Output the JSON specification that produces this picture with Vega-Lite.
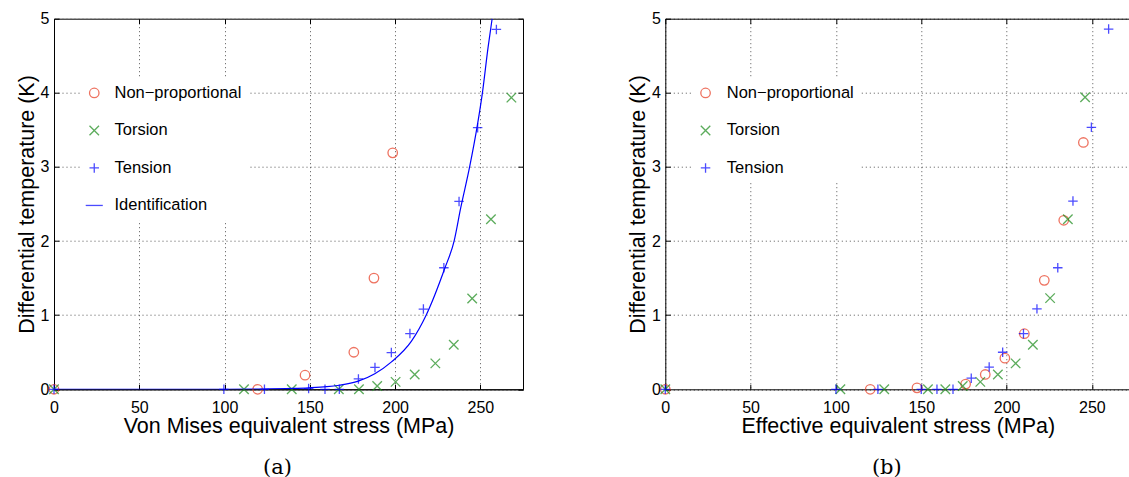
{
  "$schema": "https://vega.github.io/schema/vega-lite/v6.json",
  "padding": {"left": 15, "top": 9.7, "right": 0, "bottom": 0},
  "background": "white",
  "datasets": {
    "left": [
      {"series": "Non-proportional", "x": 0, "y": 0},
      {"series": "Non-proportional", "x": 119.4, "y": 0},
      {"series": "Non-proportional", "x": 147.2, "y": 0.19},
      {"series": "Non-proportional", "x": 175.8, "y": 0.5},
      {"series": "Non-proportional", "x": 187.6, "y": 1.5},
      {"series": "Non-proportional", "x": 198.6, "y": 3.19},
      {"series": "Torsion", "x": 0, "y": 0},
      {"series": "Torsion", "x": 111.4, "y": 0},
      {"series": "Torsion", "x": 139.4, "y": 0},
      {"series": "Torsion", "x": 167, "y": 0},
      {"series": "Torsion", "x": 178.8, "y": 0},
      {"series": "Torsion", "x": 189.5, "y": 0.045},
      {"series": "Torsion", "x": 200.3, "y": 0.1},
      {"series": "Torsion", "x": 211.5, "y": 0.2},
      {"series": "Torsion", "x": 223.6, "y": 0.35},
      {"series": "Torsion", "x": 234.4, "y": 0.6},
      {"series": "Torsion", "x": 245.2, "y": 1.225},
      {"series": "Torsion", "x": 256.2, "y": 2.295},
      {"series": "Torsion", "x": 268.2, "y": 3.935},
      {"series": "Tension", "x": 0, "y": 0},
      {"series": "Tension", "x": 99.6, "y": 0},
      {"series": "Tension", "x": 123.4, "y": 0},
      {"series": "Tension", "x": 149.3, "y": 0.01},
      {"series": "Tension", "x": 158.9, "y": 0},
      {"series": "Tension", "x": 167.3, "y": 0},
      {"series": "Tension", "x": 178.5, "y": 0.14},
      {"series": "Tension", "x": 188.2, "y": 0.295},
      {"series": "Tension", "x": 197.8, "y": 0.495},
      {"series": "Tension", "x": 208.7, "y": 0.752},
      {"series": "Tension", "x": 216.6, "y": 1.083},
      {"series": "Tension", "x": 228.6, "y": 1.64},
      {"series": "Tension", "x": 237.5, "y": 2.535},
      {"series": "Tension", "x": 248.4, "y": 3.53},
      {"series": "Tension", "x": 259.4, "y": 4.855}
    ],
    "curve": [
      {"x": 0, "y": 0},
      {"x": 100, "y": 0},
      {"x": 120, "y": 0.003},
      {"x": 140, "y": 0.012},
      {"x": 149.3, "y": 0.02},
      {"x": 160, "y": 0.035},
      {"x": 167.3, "y": 0.055},
      {"x": 178.4, "y": 0.11},
      {"x": 188.1, "y": 0.21},
      {"x": 197.9, "y": 0.37},
      {"x": 209.6, "y": 0.65},
      {"x": 218.4, "y": 1.01},
      {"x": 229.1, "y": 1.63},
      {"x": 234.6, "y": 2.0},
      {"x": 238.5, "y": 2.45},
      {"x": 243.7, "y": 3.0},
      {"x": 248.3, "y": 3.57},
      {"x": 251.2, "y": 4.0},
      {"x": 254.5, "y": 4.61},
      {"x": 256.9, "y": 5.0}
    ],
    "right": [
      {"series": "Non-proportional", "x": 0, "y": 0},
      {"series": "Non-proportional", "x": 120.1, "y": 0},
      {"series": "Non-proportional", "x": 147.5, "y": 0.02},
      {"series": "Non-proportional", "x": 176.0, "y": 0.07},
      {"series": "Non-proportional", "x": 187.5, "y": 0.2},
      {"series": "Non-proportional", "x": 199.0, "y": 0.42},
      {"series": "Non-proportional", "x": 210.4, "y": 0.75},
      {"series": "Non-proportional", "x": 222.1, "y": 1.47},
      {"series": "Non-proportional", "x": 233.5, "y": 2.28},
      {"series": "Non-proportional", "x": 245.0, "y": 3.33},
      {"series": "Torsion", "x": 0, "y": 0},
      {"series": "Torsion", "x": 102.6, "y": 0},
      {"series": "Torsion", "x": 128.3, "y": 0},
      {"series": "Torsion", "x": 153.9, "y": 0},
      {"series": "Torsion", "x": 164.1, "y": 0},
      {"series": "Torsion", "x": 174.3, "y": 0.045},
      {"series": "Torsion", "x": 184.6, "y": 0.1},
      {"series": "Torsion", "x": 194.9, "y": 0.2},
      {"series": "Torsion", "x": 205.3, "y": 0.35},
      {"series": "Torsion", "x": 215.4, "y": 0.6},
      {"series": "Torsion", "x": 225.5, "y": 1.23},
      {"series": "Torsion", "x": 235.9, "y": 2.295},
      {"series": "Torsion", "x": 246.0, "y": 3.94},
      {"series": "Tension", "x": 0, "y": 0},
      {"series": "Tension", "x": 100, "y": 0},
      {"series": "Tension", "x": 124.6, "y": 0},
      {"series": "Tension", "x": 150, "y": 0},
      {"series": "Tension", "x": 159.2, "y": 0},
      {"series": "Tension", "x": 168.6, "y": 0},
      {"series": "Tension", "x": 179.3, "y": 0.15},
      {"series": "Tension", "x": 189.8, "y": 0.3},
      {"series": "Tension", "x": 197.7, "y": 0.5},
      {"series": "Tension", "x": 209.9, "y": 0.75},
      {"series": "Tension", "x": 217.8, "y": 1.085},
      {"series": "Tension", "x": 230.0, "y": 1.64},
      {"series": "Tension", "x": 238.9, "y": 2.54},
      {"series": "Tension", "x": 249.7, "y": 3.535},
      {"series": "Tension", "x": 259.8, "y": 4.86}
    ]
  },
  "config": {
    "font": "Liberation Sans",
    "view": {"stroke": "black", "strokeWidth": 1},
    "axis": {
      "labelFont": "Liberation Sans",
      "labelFontSize": 16,
      "labelColor": "#000",
      "titleFont": "Liberation Sans",
      "titleFontSize": 21.5,
      "titleFontWeight": "normal",
      "titleColor": "#000",
      "domainColor": "#000",
      "domainWidth": 1,
      "tickColor": "#000",
      "tickSize": -5,
      "gridColor": "#555",
      "gridDash": [1, 3],
      "gridWidth": 1,
      "gridOpacity": 1,
      "labelFlush": false,
      "labelOverlap": false
    },
    "legend": {
      "labelFont": "Liberation Sans",
      "labelFontSize": 16.5,
      "labelColor": "#000"
    }
  },
  "spacing": 142.3,
  "bounds": "flush",
  "resolve": {
    "scale": {"color": "independent", "shape": "independent"},
    "legend": {"color": "independent", "shape": "independent"}
  },
  "hconcat": [
    {
      "width": 469,
      "height": 370.6,
      "title": {"text": "(a)", "orient": "bottom", "font": "DejaVu Serif", "fontSize": 21, "fontWeight": "normal", "color": "#000", "anchor": "middle", "frame": "group", "dx": -11, "offset": 20},
      "layer": [
        {
          "data": {"name": "left"},
          "mark": {"type": "point", "filled": false, "strokeWidth": 1.3, "size": 90},
          "encoding": {
            "x": {"field": "x", "type": "quantitative", "scale": {"domain": [0, 275], "nice": false},
              "axis": {"orient": "bottom", "title": "Von Mises equivalent stress (MPa)", "values": [0, 50, 100, 150, 200, 250], "grid": true, "labelPadding": 15, "titlePadding": 0}},
            "y": {"field": "y", "type": "quantitative", "scale": {"domain": [0, 5], "nice": false},
              "axis": {"orient": "left", "title": "Differential temperature (K)", "values": [0, 1, 2, 3, 4, 5], "grid": true, "labelPadding": 10, "titlePadding": 2}},
            "color": {"field": "series", "type": "nominal",
              "scale": {"domain": ["Non-proportional", "Torsion", "Tension", "Identification"], "range": ["#e8381e", "#188a18", "#0000ff", "#0000ff"]},
              "legend": {"title": null, "orient": "none", "legendX": 26, "legendY": 60, "fillColor": "white", "padding": 6, "symbolSize": 90, "symbolStrokeWidth": 1.3, "rowPadding": 20.5, "labelOffset": 12, "labelExpr": "replace(datum.label, '-', '−')"}},
            "shape": {"field": "series", "type": "nominal",
              "scale": {"domain": ["Non-proportional", "Torsion", "Tension", "Identification"], "range": ["circle", "M-1,-1L1,1M-1,1L1,-1", "M-1,0L1,0M0,-1L0,1", "M-1.8,0L1.8,0"]},
              "legend": {"title": null, "orient": "none", "legendX": 26, "legendY": 60, "fillColor": "white", "padding": 6, "symbolSize": 90, "symbolStrokeWidth": 1.3, "rowPadding": 20.5, "labelOffset": 12, "labelExpr": "replace(datum.label, '-', '−')"}}
          }
        },
        {
          "data": {"name": "curve"},
          "mark": {"type": "line", "color": "#0000ff", "strokeWidth": 1.2, "interpolate": "monotone", "clip": true},
          "encoding": {
            "x": {"field": "x", "type": "quantitative", "axis": {"orient": "top", "labels": false, "title": null, "grid": false, "domain": false, "values": [0, 50, 100, 150, 200, 250]}},
            "y": {"field": "y", "type": "quantitative", "axis": {"orient": "right", "labels": false, "title": null, "grid": false, "domain": false, "values": [0, 1, 2, 3, 4, 5]}}
          }
        }
      ],
      "resolve": {"axis": {"x": "independent", "y": "independent"}}
    },
    {
      "width": 465,
      "height": 370.6,
      "view": {"stroke": null},
      "title": {"text": "(b)", "orient": "bottom", "font": "DejaVu Serif", "fontSize": 21, "fontWeight": "normal", "color": "#000", "anchor": "middle", "frame": "group", "dx": -11, "offset": 20},
      "layer": [
        {
          "data": {"name": "right"},
          "transform": [{"filter": "datum.series === 'Non-proportional'"}],
          "mark": {"type": "point", "filled": false, "strokeWidth": 1.3, "size": 90},
          "encoding": {
            "x": {"field": "x", "type": "quantitative", "scale": {"domain": [0, 272.5], "nice": false},
              "axis": {"orient": "bottom", "title": "Effective equivalent stress (MPa)", "values": [0, 50, 100, 150, 200, 250], "grid": true, "labelPadding": 15, "titlePadding": 0}},
            "y": {"field": "y", "type": "quantitative", "scale": {"domain": [0, 5], "nice": false},
              "axis": {"orient": "left", "title": "Differential temperature (K)", "values": [0, 1, 2, 3, 4, 5], "grid": true, "labelPadding": 10, "titlePadding": 2}},
            "color": {"field": "series", "type": "nominal",
              "scale": {"domain": ["Non-proportional", "Torsion", "Tension"], "range": ["#e8381e", "#188a18", "#0000ff"]},
              "legend": {"title": null, "orient": "none", "legendX": 26, "legendY": 60, "fillColor": "white", "padding": 6, "symbolSize": 90, "symbolStrokeWidth": 1.3, "rowPadding": 20.5, "labelOffset": 13, "labelExpr": "replace(datum.label, '-', '−')"}},
            "shape": {"field": "series", "type": "nominal",
              "scale": {"domain": ["Non-proportional", "Torsion", "Tension"], "range": ["circle", "M-1,-1L1,1M-1,1L1,-1", "M-1,0L1,0M0,-1L0,1"]},
              "legend": {"title": null, "orient": "none", "legendX": 26, "legendY": 60, "fillColor": "white", "padding": 6, "symbolSize": 90, "symbolStrokeWidth": 1.3, "rowPadding": 20.5, "labelOffset": 13, "labelExpr": "replace(datum.label, '-', '−')"}}
          }
        },
        {
          "data": {"name": "right"},
          "transform": [{"filter": "datum.series !== 'Non-proportional'"}],
          "mark": {"type": "point", "filled": false, "strokeWidth": 1.3, "size": 90},
          "encoding": {
            "x": {"field": "x", "type": "quantitative",
              "axis": {"orient": "top", "labels": false, "title": null, "grid": false, "domain": true, "values": [0, 50, 100, 150, 200, 250]}},
            "y": {"field": "y", "type": "quantitative",
              "axis": {"orient": "left", "title": "Differential temperature (K)", "values": [0, 1, 2, 3, 4, 5], "grid": true, "labelPadding": 10, "titlePadding": 2}},
            "color": {"field": "series", "type": "nominal"},
            "shape": {"field": "series", "type": "nominal"}
          }
        }
      ],
      "resolve": {"axis": {"x": "independent"}}
    }
  ]
}
